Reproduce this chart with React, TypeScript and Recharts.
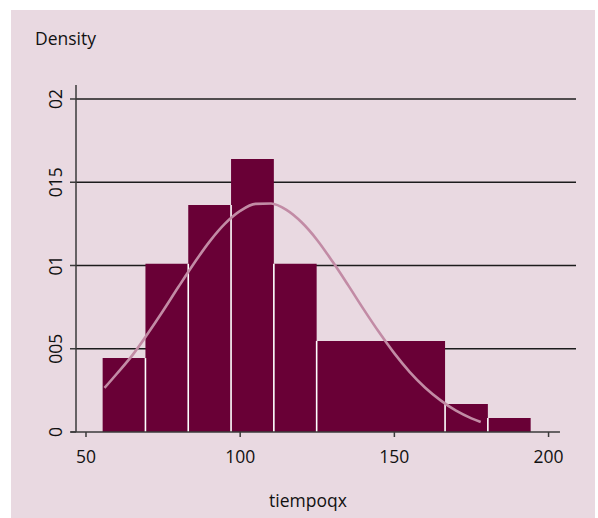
import React from 'react';
import {
  ComposedChart,
  Line,
  XAxis,
  YAxis,
  CartesianGrid,
  ReferenceArea,
  ReferenceLine,
  Label,
} from 'recharts';

// histogram bins of tiempoqx (start, end, density)
const binStarts = [55.4, 69.28, 83.16, 97.04, 110.92, 124.8, 138.68, 152.56, 166.44, 180.32];
const binWidth = 13.88;
const densities = [0.00444, 0.0101, 0.01363, 0.0164, 0.0101, 0.00547, 0.00547, 0.00547, 0.00168, 0.00084];

// normal density overlay
const curveX = [56, 60, 65, 70, 75, 80, 85, 90, 95, 100, 105, 110, 115, 120, 125, 130, 135, 140, 145, 150, 155, 160, 165, 170, 175, 178];
const curveY = [0.00265, 0.0035, 0.0046, 0.0059, 0.00728, 0.00872, 0.01012, 0.01142, 0.0125, 0.01328, 0.0137, 0.01372, 0.01334, 0.01258, 0.01152, 0.01022, 0.00882, 0.00738, 0.006, 0.00472, 0.0036, 0.00266, 0.0019, 0.00128, 0.00082, 0.0006];

const xTicks = [50, 100, 150, 200];
const yTicks = [0, 0.005, 0.01, 0.015, 0.02];
const yTickLabels = ['0', '005', '01', '015', '02'];

const xDomain: [number, number] = [46.76, 208.9];
const yDomain: [number, number] = [0, 0.02084];
const xAxisSpan = [45.1, 203.7];

const BAR = '#690036';
const CURVE = '#c28ba5';
const BG = '#e9d9e1';
const FONT = '"Open Sans", sans-serif';

const curveData = curveX.map((x, i) => ({ x, y: curveY[i] }));

// neighbouring bins of equal height are drawn as one block (no seam)
const blocks: { x1: number; x2: number; d: number }[] = [];
binStarts.forEach((s, i) => {
  const last = blocks[blocks.length - 1];
  if (last && last.d === densities[i]) last.x2 = s + binWidth;
  else blocks.push({ x1: s, x2: s + binWidth, d: densities[i] });
});

const XTick = (props: any) => {
  const { x, y, payload } = props;
  return (
    <text x={x} y={y} dy={24} textAnchor="middle" fontSize={17.5} fill="#111" fontFamily={FONT}>
      {payload.value}
    </text>
  );
};

const YTick = (props: any) => {
  const { x, y, index } = props;
  const tx = x - 6;
  return (
    <text
      x={tx}
      y={y}
      textAnchor="middle"
      fontSize={17.5}
      fill="#111"
      fontFamily={FONT}
      transform={`rotate(-90, ${tx}, ${y})`}
    >
      {yTickLabels[index]}
    </text>
  );
};

export default function App() {
  return (
    <div style={{ position: 'absolute', left: 0, top: 0, width: 598, height: 518, background: '#fff' }}>
      <div style={{ position: 'absolute', left: 11, top: 10, width: 584, height: 508, background: BG }} />
      <div style={{ position: 'absolute', left: 0, top: 0 }}>
        <ComposedChart
          width={598}
          height={518}
          data={curveData}
          margin={{ top: 85, right: 22, bottom: 0, left: 0 }}
        >
          <CartesianGrid
            vertical={false}
            horizontalValues={yTicks.slice(1)}
            stroke="#1c1c1c"
            strokeWidth={1.4}
          />
          <XAxis
            dataKey="x"
            type="number"
            domain={xDomain}
            ticks={xTicks}
            allowDataOverflow
            height={86}
            axisLine={false}
            tickSize={5}
            tickLine={{ stroke: '#3a3a3a', strokeWidth: 1.5 }}
            tick={<XTick />}
          >
            <Label
              content={(p: any) => {
                const vb = p.viewBox;
                return (
                  <text
                    x={vb.x + vb.width / 2 - 18}
                    y={vb.y + 75}
                    textAnchor="middle"
                    fontSize={17.5}
                    fill="#111"
                    fontFamily={FONT}
                  >
                    tiempoqx
                  </text>
                );
              }}
            />
          </XAxis>
          <YAxis
            type="number"
            domain={yDomain}
            ticks={yTicks}
            allowDataOverflow
            width={76}
            axisLine={{ stroke: '#3a3a3a', strokeWidth: 1.5 }}
            tickSize={6}
            tickLine={{ stroke: '#3a3a3a', strokeWidth: 1.5 }}
            tick={<YTick />}
          >
            <Label
              content={(p: any) => {
                const vb = p.viewBox;
                return (
                  <text x={35} y={vb.y - 40} fontSize={17.5} fill="#111" fontFamily={FONT}>
                    Density
                  </text>
                );
              }}
            />
          </YAxis>
          {blocks.map((b, i) => (
            <ReferenceArea
              key={`bin-${i}`}
              x1={b.x1}
              x2={b.x2}
              y1={0}
              y2={b.d}
              fill={BAR}
              fillOpacity={1}
              stroke="none"
              ifOverflow="visible"
            />
          ))}
          {blocks.slice(1).map((b, i) => (
            <ReferenceLine
              key={`sep-${i}`}
              segment={[
                { x: b.x1, y: 0 },
                { x: b.x1, y: Math.min(b.d, blocks[i].d) },
              ]}
              stroke="#ffffff"
              strokeWidth={1.6}
              ifOverflow="visible"
            />
          ))}
          <ReferenceLine
            segment={[
              { x: xAxisSpan[0], y: 0 },
              { x: xAxisSpan[1], y: 0 },
            ]}
            stroke="#3a3a3a"
            strokeWidth={1.5}
            ifOverflow="visible"
          />
          <Line
            type="monotone"
            dataKey="y"
            stroke={CURVE}
            strokeWidth={2.6}
            dot={false}
            activeDot={false}
            isAnimationActive={false}
          />
        </ComposedChart>
      </div>
    </div>
  );
}
